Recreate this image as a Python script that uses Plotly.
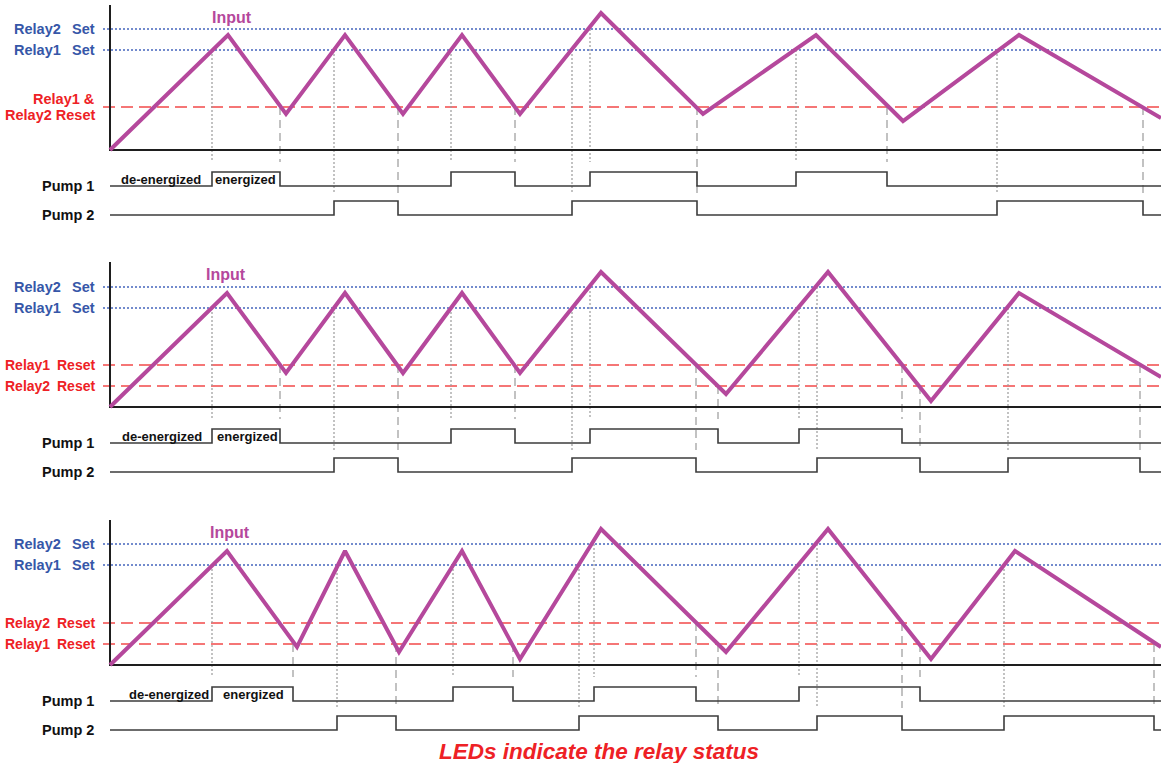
import plotly.graph_objects as go

W, H = 1161, 763
X_START, X_END = 110, 1161

# ---- panel 1: shared reset level -------------------------------------------
P1_T = [110, 228, 286, 345, 403, 462, 520, 601, 703, 816, 903, 1019, 1161]
P1_INPUT = [0, 115, 36, 115, 36, 115, 36, 137, 36, 115, 29, 115, 32]
P1_LEVELS = {"set2": 121, "set1": 100, "reset": 43}
P1_PUMP1_T = [110, 212, 280, 451, 515, 590, 697, 796, 887, 1161]
P1_PUMP1 = [0, 1, 0, 1, 0, 1, 0, 1, 0, 0]
P1_PUMP2_T = [110, 334, 398, 572, 697, 997, 1143, 1161]
P1_PUMP2 = [0, 1, 0, 1, 0, 1, 0, 0]
# (time, level key, pump, kind)
P1_GUIDES = [
    (212, "set1", 1, "dot"), (280, "reset", 1, "dash"),
    (334, "set1", 2, "dot"), (398, "reset", 2, "dash"),
    (451, "set1", 1, "dot"), (515, "reset", 1, "dash"),
    (572, "set1", 2, "dot"), (590, "set2", 1, "dot"),
    (697, "reset", 2, "dash"), (796, "set1", 1, "dot"),
    (887, "reset", 1, "dash"), (997, "set1", 2, "dot"),
    (1143, "reset", 2, "dash"),
]

# ---- panel 2: relay1 reset above relay2 reset ------------------------------
P2_T = [110, 227, 286, 345, 403, 462, 520, 601, 726, 828, 931, 1019, 1161]
P2_INPUT = [0, 114, 34, 114, 34, 114, 34, 135, 13, 135, 6, 114, 30]
P2_LEVELS = {"set2": 120, "set1": 99, "r1reset": 42, "r2reset": 21}
P2_PUMP1_T = [110, 212, 280, 451, 515, 590, 718, 799, 902, 1161]
P2_PUMP1 = [0, 1, 0, 1, 0, 1, 0, 1, 0, 0]
P2_PUMP2_T = [110, 334, 398, 572, 696, 817, 920, 1008, 1140, 1161]
P2_PUMP2 = [0, 1, 0, 1, 0, 1, 0, 1, 0, 0]
P2_GUIDES = [
    (212, "set1", 1, "dot"), (280, "r1reset", 1, "dash"),
    (334, "set1", 2, "dot"), (398, "r1reset", 2, "dash"),
    (451, "set1", 1, "dot"), (515, "r1reset", 1, "dash"),
    (572, "set1", 2, "dot"), (590, "set2", 1, "dot"),
    (696, "r1reset", 2, "dash"), (718, "r2reset", 1, "dash"),
    (799, "set1", 1, "dot"), (817, "set2", 2, "dot"),
    (902, "r1reset", 1, "dash"), (920, "r2reset", 2, "dash"),
    (1008, "set1", 2, "dot"), (1140, "r1reset", 2, "dash"),
]

# ---- panel 3: relay2 reset above relay1 reset ------------------------------
P3_T = [110, 227, 297, 345, 399, 462, 520, 601, 726, 828, 931, 1015, 1161]
P3_INPUT = [0, 114, 18, 114, 13, 114, 6, 136, 13, 136, 6, 114, 18]
P3_LEVELS = {"set2": 121, "set1": 100, "r2reset": 42, "r1reset": 21}
P3_PUMP1_T = [110, 212, 293, 453, 513, 594, 696, 799, 920, 1161]
P3_PUMP1 = [0, 1, 0, 1, 0, 1, 0, 1, 0, 0]
P3_PUMP2_T = [110, 337, 396, 579, 718, 817, 902, 1004, 1154, 1161]
P3_PUMP2 = [0, 1, 0, 1, 0, 1, 0, 1, 0, 0]
P3_GUIDES = [
    (212, "set1", 1, "dot"), (293, "r1reset", 1, "dash"),
    (337, "set1", 2, "dot"), (396, "r1reset", 2, "dash"),
    (453, "set1", 1, "dot"), (513, "r1reset", 1, "dash"),
    (579, "set1", 2, "dot"), (594, "set2", 1, "dot"),
    (696, "r2reset", 1, "dash"), (718, "r1reset", 2, "dash"),
    (799, "set1", 1, "dot"), (817, "set2", 2, "dot"),
    (902, "r2reset", 2, "dash"), (920, "r1reset", 1, "dash"),
    (1004, "set1", 2, "dot"), (1154, "r1reset", 2, "dash"),
]

# level labels per panel: (level key, left text, right text)
P1_LABELS = [("set2", "Relay2", "Set"), ("set1", "Relay1", "Set")]
P2_LABELS = [("set2", "Relay2", "Set"), ("set1", "Relay1", "Set"),
             ("r1reset", "Relay1", "Reset"), ("r2reset", "Relay2", "Reset")]
P3_LABELS = [("set2", "Relay2", "Set"), ("set1", "Relay1", "Set"),
             ("r2reset", "Relay2", "Reset"), ("r1reset", "Relay1", "Reset")]

PANEL_BASELINES = [150, 407, 665]  # pixel row of each input baseline

PURPLE = "#b5489c"
BLUE = "#4565bd"
BLUE_TXT = "#3657a8"
RED = "#f24a4a"
RED_TXT = "#ee2125"
GUIDE = "#9a9a9a"
PUMP_COLOR = "#3c3c3c"
FONT = "Liberation Sans, Arial, sans-serif"

PUMP_BASE = {1: -36, 2: -65}
PUMP_STEP = 14
GUIDE_END = {1: -12, 2: -43}

fig = go.Figure()

panels = [
    (P1_T, P1_INPUT, P1_LEVELS, P1_PUMP1_T, P1_PUMP1, P1_PUMP2_T, P1_PUMP2, P1_GUIDES, P1_LABELS),
    (P2_T, P2_INPUT, P2_LEVELS, P2_PUMP1_T, P2_PUMP1, P2_PUMP2_T, P2_PUMP2, P2_GUIDES, P2_LABELS),
    (P3_T, P3_INPUT, P3_LEVELS, P3_PUMP1_T, P3_PUMP1, P3_PUMP2_T, P3_PUMP2, P3_GUIDES, P3_LABELS),
]
input_label_x = [232, 226, 230]
deen_x = [(161, 245), (162, 247), (169, 253)]

for i, (t, inp, levels, p1t, p1, p2t, p2, guides, labels) in enumerate(panels):
    yref = "y" if i == 0 else f"y{i + 1}"

    # reference levels
    for key, val in levels.items():
        is_set = key.startswith("set")
        fig.add_trace(go.Scatter(
            x=[103, X_END], y=[val, val], mode="lines", yaxis=yref,
            line=dict(color=BLUE if is_set else RED, width=1.3,
                      dash="2px,2px" if is_set else "12px,6px"),
            hoverinfo="skip", showlegend=False,
        ))

    # guide lines from level crossings down to the pump traces
    for gt, key, pump, kind in guides:
        fig.add_trace(go.Scatter(
            x=[gt, gt], y=[levels[key], GUIDE_END[pump]], mode="lines", yaxis=yref,
            line=dict(color=GUIDE, width=1.2, dash="2px,2px" if kind == "dot" else "8px,5px"),
            hoverinfo="skip", showlegend=False,
        ))

    # axes of the input plot
    fig.add_trace(go.Scatter(
        x=[X_START, X_START, X_END], y=[145, 0, 0], mode="lines", yaxis=yref,
        line=dict(color="#1e1e1e", width=2), hoverinfo="skip", showlegend=False,
    ))

    # pump states
    for pt, ps, pump in [(p1t, p1, 1), (p2t, p2, 2)]:
        fig.add_trace(go.Scatter(
            x=pt, y=[PUMP_BASE[pump] + s * PUMP_STEP for s in ps], mode="lines",
            line=dict(color=PUMP_COLOR, width=1.6, shape="hv"), yaxis=yref,
            hoverinfo="skip", showlegend=False,
        ))

    # input signal
    fig.add_trace(go.Scatter(
        x=t, y=inp, mode="lines", yaxis=yref,
        line=dict(color=PURPLE, width=4), hoverinfo="skip", showlegend=False,
    ))

    # text
    fig.add_annotation(x=input_label_x[i], y=133, yref=yref, text="<b>Input</b>",
                       showarrow=False, font=dict(size=16, color=PURPLE, family=FONT))
    for key, left, right in labels:
        is_set = key.startswith("set")
        color = BLUE_TXT if is_set else RED_TXT
        size = 14.5 if is_set else 14
        left_x = 12 if is_set else 3
        fig.add_annotation(x=left_x, y=levels[key], yref=yref, text=f"<b>{left}</b>",
                           xanchor="left", showarrow=False,
                           font=dict(size=size, color=color, family=FONT))
        fig.add_annotation(x=97, y=levels[key], yref=yref, text=f"<b>{right}</b>",
                           xanchor="right", showarrow=False,
                           font=dict(size=size, color=color, family=FONT))
    if i == 0:
        fig.add_annotation(x=97, y=levels["reset"] + 8, yref=yref, text="<b>Relay1 &amp;</b>",
                           xanchor="right", showarrow=False,
                           font=dict(size=14.5, color=RED_TXT, family=FONT))
        fig.add_annotation(x=97, y=levels["reset"] - 8, yref=yref, text="<b>Relay2 Reset</b>",
                           xanchor="right", showarrow=False,
                           font=dict(size=14.5, color=RED_TXT, family=FONT))
    for pump in (1, 2):
        fig.add_annotation(x=96, y=PUMP_BASE[pump], yref=yref, text=f"<b>Pump {pump}</b>",
                           xanchor="right", showarrow=False,
                           font=dict(size=14.5, color="#111111", family=FONT))
    fig.add_annotation(x=deen_x[i][0], y=PUMP_BASE[1] + 7, yref=yref, text="<b>de-energized</b>",
                       showarrow=False, font=dict(size=13, color="#111111", family=FONT))
    fig.add_annotation(x=deen_x[i][1], y=PUMP_BASE[1] + 7, yref=yref, text="<b>energized</b>",
                       showarrow=False, font=dict(size=13, color="#111111", family=FONT))

fig.add_annotation(x=599, y=-86, xref="x", yref="y3", yanchor="middle",
                   text="<b><i>LEDs indicate the relay status</i></b>", showarrow=False,
                   font=dict(size=22.5, color=RED_TXT, family=FONT))

# one pixel per unit; every panel overlays the full figure height
axis_common = dict(visible=False, domain=[0, 1], fixedrange=True)
layout_axes = {}
for i, base in enumerate(PANEL_BASELINES):
    name = "yaxis" if i == 0 else f"yaxis{i + 1}"
    ax = dict(axis_common, range=[-(H - base), base])
    if i > 0:
        ax["overlaying"] = "y"
    layout_axes[name] = ax

fig.update_layout(
    width=W, height=H,
    margin=dict(l=0, r=0, t=0, b=0),
    paper_bgcolor="white", plot_bgcolor="white",
    xaxis=dict(visible=False, range=[0, W], domain=[0, 1], fixedrange=True),
    showlegend=False,
    **layout_axes,
)

fig.write_html("out.html", config={"displayModeBar": False},
               post_script="document.body.style.margin='0';document.body.style.overflow='hidden';")
